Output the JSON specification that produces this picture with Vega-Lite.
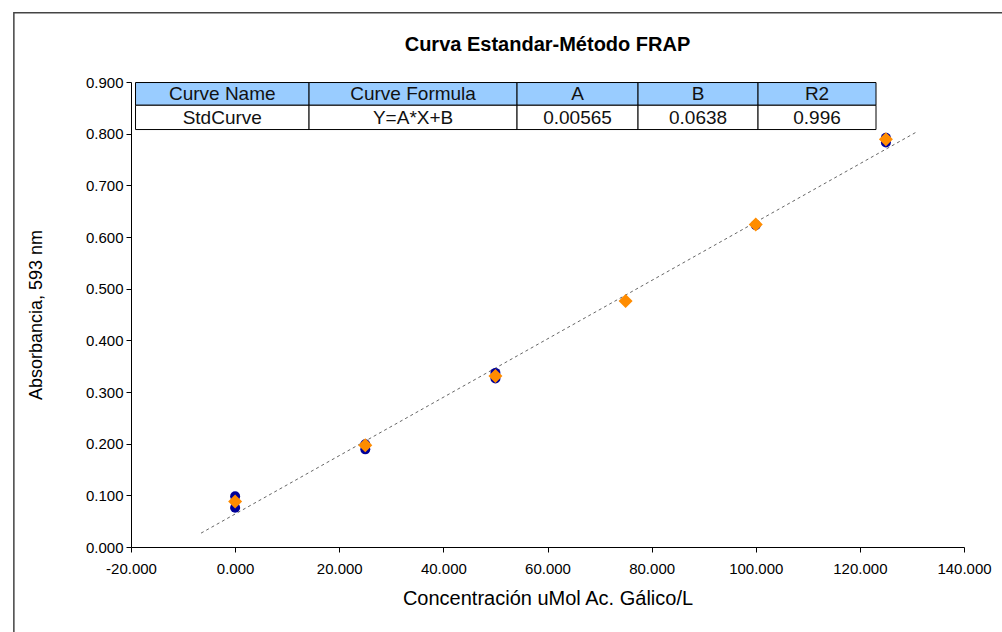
{
  "$schema": "https://vega.github.io/schema/vega-lite/v6.json",
  "width": 833,
  "height": 465,
  "autosize": {"type": "none"},
  "padding": {"left": 131, "top": 82, "right": 38, "bottom": 85},
  "background": "#ffffff",
  "title": {"text": "Curva Estandar-Método FRAP", "font": "Liberation Sans", "fontSize": 20, "fontWeight": "bold", "color": "#000000", "anchor": "middle", "frame": "group", "baseline": "alphabetic", "offset": -59},
  "config": {
    "view": {"stroke": null},
    "axis": {"grid": false, "domainColor": "#000000", "domainWidth": 1, "tickColor": "#000000", "tickSize": 5, "tickWidth": 1, "labelFont": "Liberation Sans", "labelFontSize": 15, "labelColor": "#000000", "titleFont": "Liberation Sans", "titleFontWeight": "normal", "titleColor": "#000000", "labelFlush": false, "labelOverlap": false, "labelExpr": "replace(datum.label, '\u2212', '-')"},
    "axisX": {"labelPadding": 9, "titleFontSize": 20, "titlePadding": 12},
    "axisY": {"labelPadding": 3, "titleFontSize": 18, "titlePadding": 40}
  },
  "datasets": {
    "points": [
      {"series": "rep", "conc": 0, "abs": 0.098},
      {"series": "rep", "conc": 0, "abs": 0.076},
      {"series": "rep", "conc": 25, "abs": 0.199},
      {"series": "rep", "conc": 25, "abs": 0.189},
      {"series": "rep", "conc": 50, "abs": 0.337},
      {"series": "rep", "conc": 50, "abs": 0.326},
      {"series": "rep", "conc": 100, "abs": 0.623},
      {"series": "rep", "conc": 125, "abs": 0.792},
      {"series": "rep", "conc": 125, "abs": 0.783},
      {"series": "mean", "conc": 0, "abs": 0.088},
      {"series": "mean", "conc": 25, "abs": 0.197},
      {"series": "mean", "conc": 50, "abs": 0.331},
      {"series": "mean", "conc": 75, "abs": 0.476},
      {"series": "mean", "conc": 100, "abs": 0.624},
      {"series": "mean", "conc": 125, "abs": 0.789}
    ],
    "trend": [
      {"conc": -6.55, "abs": 0.0268},
      {"conc": 130.8, "abs": 0.8028}
    ],
    "table": [
      {"part": "header", "x0": -19.13, "x1": 14.2, "xc": -2.47, "top": 0.899, "bottom": 0.855, "yc": 0.876, "label": "Curve Name"},
      {"part": "header", "x0": 14.2, "x1": 54.15, "xc": 34.18, "top": 0.899, "bottom": 0.855, "yc": 0.876, "label": "Curve Formula"},
      {"part": "header", "x0": 54.15, "x1": 77.39, "xc": 65.77, "top": 0.899, "bottom": 0.855, "yc": 0.876, "label": "A"},
      {"part": "header", "x0": 77.39, "x1": 100.44, "xc": 88.92, "top": 0.899, "bottom": 0.855, "yc": 0.876, "label": "B"},
      {"part": "header", "x0": 100.44, "x1": 123.1, "xc": 111.77, "top": 0.899, "bottom": 0.855, "yc": 0.876, "label": "R2"},
      {"part": "body", "x0": -19.13, "x1": 14.2, "xc": -2.47, "top": 0.855, "bottom": 0.808, "yc": 0.831, "label": "StdCurve"},
      {"part": "body", "x0": 14.2, "x1": 54.15, "xc": 34.18, "top": 0.855, "bottom": 0.808, "yc": 0.831, "label": "Y=A*X+B"},
      {"part": "body", "x0": 54.15, "x1": 77.39, "xc": 65.77, "top": 0.855, "bottom": 0.808, "yc": 0.831, "label": "0.00565"},
      {"part": "body", "x0": 77.39, "x1": 100.44, "xc": 88.92, "top": 0.855, "bottom": 0.808, "yc": 0.831, "label": "0.0638"},
      {"part": "body", "x0": 100.44, "x1": 123.1, "xc": 111.77, "top": 0.855, "bottom": 0.808, "yc": 0.831, "label": "0.996"}
    ]
  },
  "layer": [
    {
      "data": {"values": [{}]},
      "mark": {"type": "rect", "fill": "transparent", "stroke": "#444444", "strokeWidth": 1.5, "clip": false},
      "encoding": {
        "x": {"datum": -42.5, "type": "quantitative", "title": "Concentración uMol Ac. Gálico/L", "scale": {"domain": [-20, 140], "nice": false, "zero": false}, "axis": {"values": [-20, 0, 20, 40, 60, 80, 100, 120, 140], "format": ".3f", "title": "Concentración uMol Ac. Gálico/L"}},
        "x2": {"datum": 150},
        "y": {"datum": 1.034, "type": "quantitative", "title": "Absorbancia, 593 nm", "scale": {"domain": [0, 0.9], "nice": false, "zero": false}, "axis": {"values": [0, 0.1, 0.2, 0.3, 0.4, 0.5, 0.6, 0.7, 0.8, 0.9], "format": ".3f", "title": "Absorbancia, 593 nm"}},
        "y2": {"datum": -0.2}
      }
    },
    {
      "data": {"name": "trend"},
      "mark": {"type": "line", "color": "#666666", "strokeWidth": 1, "strokeDash": [3, 3]},
      "encoding": {
        "x": {"field": "conc", "type": "quantitative", "title": "Concentración uMol Ac. Gálico/L", "axis": {"values": [-20, 0, 20, 40, 60, 80, 100, 120, 140], "format": ".3f", "title": "Concentración uMol Ac. Gálico/L"}},
        "y": {"field": "abs", "type": "quantitative", "title": "Absorbancia, 593 nm", "axis": {"values": [0, 0.1, 0.2, 0.3, 0.4, 0.5, 0.6, 0.7, 0.8, 0.9], "format": ".3f", "title": "Absorbancia, 593 nm"}}
      }
    },
    {
      "data": {"name": "table"},
      "mark": {"type": "rect", "stroke": "#000000", "strokeWidth": 1},
      "encoding": {
        "x": {"field": "x0", "type": "quantitative", "title": "Concentración uMol Ac. Gálico/L", "axis": {"values": [-20, 0, 20, 40, 60, 80, 100, 120, 140], "format": ".3f", "title": "Concentración uMol Ac. Gálico/L"}},
        "x2": {"field": "x1"},
        "y": {"field": "top", "type": "quantitative", "title": "Absorbancia, 593 nm", "axis": {"values": [0, 0.1, 0.2, 0.3, 0.4, 0.5, 0.6, 0.7, 0.8, 0.9], "format": ".3f", "title": "Absorbancia, 593 nm"}},
        "y2": {"field": "bottom"},
        "fill": {"field": "part", "type": "nominal", "scale": {"domain": ["header", "body"], "range": ["#99CCFF", "#FFFFFF"]}, "legend": null}
      }
    },
    {
      "data": {"name": "table"},
      "mark": {"type": "text", "font": "Liberation Sans", "fontSize": 19, "color": "#111111", "align": "center", "baseline": "middle"},
      "encoding": {
        "x": {"field": "xc", "type": "quantitative", "title": "Concentración uMol Ac. Gálico/L", "axis": {"values": [-20, 0, 20, 40, 60, 80, 100, 120, 140], "format": ".3f", "title": "Concentración uMol Ac. Gálico/L"}},
        "y": {"field": "yc", "type": "quantitative", "title": "Absorbancia, 593 nm", "axis": {"values": [0, 0.1, 0.2, 0.3, 0.4, 0.5, 0.6, 0.7, 0.8, 0.9], "format": ".3f", "title": "Absorbancia, 593 nm"}},
        "text": {"field": "label", "type": "nominal"}
      }
    },
    {
      "data": {"name": "points"},
      "transform": [{"filter": "datum.series === 'rep'"}],
      "mark": {"type": "point", "shape": "circle", "filled": true, "size": 100, "color": "#000099", "opacity": 1},
      "encoding": {
        "x": {"field": "conc", "type": "quantitative", "title": "Concentración uMol Ac. Gálico/L", "axis": {"values": [-20, 0, 20, 40, 60, 80, 100, 120, 140], "format": ".3f", "title": "Concentración uMol Ac. Gálico/L"}},
        "y": {"field": "abs", "type": "quantitative", "title": "Absorbancia, 593 nm", "axis": {"values": [0, 0.1, 0.2, 0.3, 0.4, 0.5, 0.6, 0.7, 0.8, 0.9], "format": ".3f", "title": "Absorbancia, 593 nm"}}
      }
    },
    {
      "data": {"name": "points"},
      "transform": [{"filter": "datum.series === 'mean'"}],
      "mark": {"type": "point", "shape": "diamond", "filled": true, "size": 196, "color": "#FF8C00", "opacity": 1},
      "encoding": {
        "x": {"field": "conc", "type": "quantitative", "title": "Concentración uMol Ac. Gálico/L", "axis": {"values": [-20, 0, 20, 40, 60, 80, 100, 120, 140], "format": ".3f", "title": "Concentración uMol Ac. Gálico/L"}},
        "y": {"field": "abs", "type": "quantitative", "title": "Absorbancia, 593 nm", "axis": {"values": [0, 0.1, 0.2, 0.3, 0.4, 0.5, 0.6, 0.7, 0.8, 0.9], "format": ".3f", "title": "Absorbancia, 593 nm"}}
      }
    }
  ]
}
